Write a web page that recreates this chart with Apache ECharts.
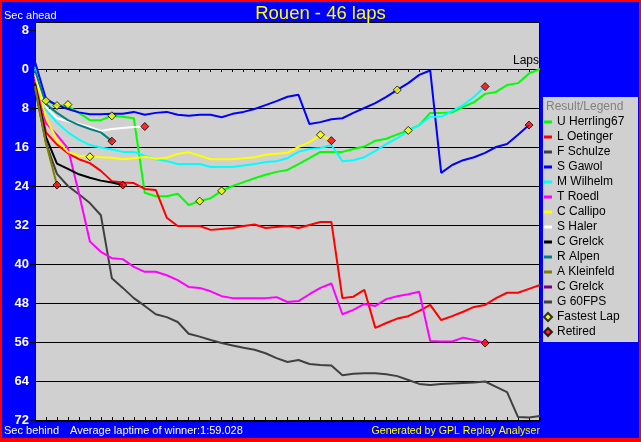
<!DOCTYPE html>
<html><head><meta charset="utf-8">
<script src="https://cdn.jsdelivr.net/npm/echarts@6/dist/echarts.min.js"></script>
<style>html,body{margin:0;padding:0;background:#ff0000;}#c{width:641px;height:442px;}</style>
</head><body><div id="c"></div>
<script>
// ---- DATA (index = lap number, value = seconds behind leader; negative = ahead) ----
const driverNames = ['U Herrling67','L Oetinger','F Schulze','S Gawol','M Wilhelm','T Roedl','C Callipo','S Haler','C Grelck','R Alpen','A Kleinfeld','C Grelck ','G 60FPS'];
const driverColors = ['#00ff00','#ff0000','#404040','#0000ff','#00ffff','#ff00ff','#ffff00','#ffffff','#000000','#008080','#808000','#800080','#404040'];

const herrling = [-0.5,6.5,7.5,7.6,9.0,10.5,10.5,9.6,9.8,10.1,25.4,26.1,26.1,25.6,27.9,27.1,26.5,25.0,24.0,23.2,22.4,21.7,21.1,20.7,19.5,18.3,17.0,17.0,17.0,16.4,15.9,14.7,14.3,13.4,12.6,11.5,9.0,9.0,8.9,7.8,6.8,5.1,4.7,3.3,2.9,0.9,0];
const oetinger = [2.4,13.0,15.5,17.3,18.5,19.3,20.9,23.0,23.3,23.4,24.6,24.8,30.5,32.2,32.2,32.2,33.0,32.8,32.6,32.2,31.9,32.6,32.4,32.2,32.6,32.0,31.4,31.4,47.0,46.7,45.3,53.1,52.1,51.2,50.7,49.6,48.4,51.5,50.7,49.8,48.8,48.4,47.0,45.9,45.9,45.1,44.3];
const schulze = [4.0,15.2,21.5,24.0,25.7,27.5,30.0,42.9,44.9,47.0,48.6,50.3,50.9,51.9,54.3,54.9,55.6,56.2,56.7,57.2,57.6,58.3,59.3,60.1,59.7,60.5,60.7,60.8,62.8,62.5,62.4,62.4,62.6,63.0,63.8,64.6,64.8,64.6,64.5,64.4,64.3,64.1,65.2,66.3,71.4,71.5,71.2];
const gawol = [-1.5,6.2,7.4,8.2,8.9,9.3,9.3,9.2,9.2,8.8,9.4,9.0,8.8,9.4,9.6,9.4,9.4,9.9,9.2,8.8,8.2,7.4,6.6,5.7,5.3,11.3,10.9,10.3,10.1,9.0,8.0,7.0,5.7,4.3,2.9,1.2,0.3,21.3,19.7,18.7,18.1,17.2,16.0,15.4,13.5,11.5];
const wilhelm = [0,8.4,11.0,13.0,14.5,15.6,16.1,16.5,17.0,17.0,17.8,18.5,18.9,19.5,19.5,19.5,20.1,20.1,20.1,19.8,19.5,19.1,18.9,18.3,17.0,16.4,16.2,15.6,18.9,18.7,18.1,16.8,15.4,14.2,12.7,11.5,9.8,9.8,8.6,7.4,5.7,3.6];
const roedl = [1.8,11.1,13.5,16.3,25.5,35.4,37.5,38.8,39.0,40.6,41.6,41.6,42.3,43.3,44.7,44.9,45.6,46.6,47.0,47.0,47.0,47.0,46.8,47.8,47.6,46.2,44.9,44.0,50.3,49.4,48.2,48.6,47.2,46.6,46.2,45.7,55.8,55.9,55.9,55.1,55.6,56.2];
const callipo = [1.2,10.0,14.5,17.0,17.8,18.0,18.1,18.2,18.5,18.3,18.0,18.4,18.2,17.4,17.1,17.8,18.5,18.5,18.5,18.3,18.1,17.6,17.4,17.2,16.0,15.0,13.5,14.7];
const haler = [0.8,7.8,10.1,10.7,11.3,11.9,12.7,12.3,12.1,11.9,11.8];
const grelck = [3.0,14.0,19.4,20.5,21.6,22.3,22.9,23.3,23.8];
const alpen = [0.3,7.2,9.0,10.5,11.5,12.3,13.0,14.8];
const kleinfeld = [3.5,15.2,23.8];
const grelck2 = [];
const fps60 = [];
const driverValues = [herrling,oetinger,schulze,gawol,wilhelm,roedl,callipo,haler,grelck,alpen,kleinfeld,grelck2,fps60];

const fastestLapLaps = [1,2,3,5,7,15,17,26,33,34];
const fastestLapValues = [6.5,7.5,7.3,18.0,9.6,27.1,25.0,13.5,4.3,12.6];
const retiredLaps = [2,7,8,10,27,41,41,45];
const retiredValues = [23.8,14.8,23.8,11.8,14.7,3.6,56.2,11.5];

const yTickValues = [-8,0,8,16,24,32,40,48,56,64,72];
const yTickLabels = ['8','0','8','16','24','32','40','48','56','64','72'];

// ---- CHART ----
const FONT = "'Liberation Sans', Arial, Helvetica, sans-serif";
const LINE_ICON = 'path://M0,0M0,2.5L8,2.5L8,5.5L0,5.5ZM8,8';
const chart = echarts.init(document.getElementById('c'), null, {renderer:'canvas'});

const series = driverNames.map((n, i) => ({
  name: n, type: 'line', symbol: 'none', showSymbol: false,
  lineStyle: {color: driverColors[i], width: 2}, itemStyle: {color: driverColors[i]},
  data: driverValues[i].map((v, lap) => [lap, v]), z: 3, animation: false
}));
series.push({
  name: 'Fastest Lap', type: 'scatter', symbol: 'diamond', symbolSize: 8,
  itemStyle: {color: '#ffff00', borderColor: '#000', borderWidth: 1}, z: 5,
  data: fastestLapLaps.map((l, i) => [l, fastestLapValues[i]])
});
series.push({
  name: 'Retired', type: 'scatter', symbol: 'diamond', symbolSize: 8,
  itemStyle: {color: '#ff0000', borderColor: '#000', borderWidth: 1}, z: 5,
  data: retiredLaps.map((l, i) => [l, retiredValues[i]])
});

const splitColors = yTickValues.map(v => v < 0 ? 'rgba(0,0,0,0)' : '#000000');
const legendData = driverNames.map((n, i) => ({name: n, icon: LINE_ICON, itemStyle: {color: driverColors[i], borderWidth: 0}}))
  .concat([{name: 'Fastest Lap', icon: 'diamond'}, {name: 'Retired', icon: 'diamond'}]);

chart.setOption({
  animation: false,
  backgroundColor: '#ff0000',
  textStyle: {fontFamily: FONT},
  title: {text: 'Rouen - 46 laps', left: 'center', top: 4, padding: 0,
    textStyle: {color: '#ffff00', fontSize: 18.5, fontWeight: 'normal', fontFamily: FONT}},
  graphic: [
    {type: 'rect', z: -100, silent: true, shape: {x: 2, y: 2, width: 637, height: 436}, style: {fill: '#0000ff'}},
    {type: 'rect', z: -90, silent: true, shape: {x: 35.5, y: 22.5, width: 504, height: 399}, style: {fill: '#d0d0d0', stroke: '#000', lineWidth: 1}},
    {type: 'rect', z: -90, silent: true, shape: {x: 543, y: 97, width: 95, height: 245}, style: {fill: '#d0d0d0'}},
    {type: 'text', x: 4, y: 16, style: {text: 'Sec ahead', fill: '#fff', font: '11px ' + FONT, textVerticalAlign: 'middle'}},
    {type: 'text', x: 4, y: 431, style: {text: 'Sec behind', fill: '#fff', font: '11px ' + FONT, textVerticalAlign: 'middle'}},
    {type: 'text', x: 70, y: 431, style: {text: 'Average laptime of winner:1:59.028', fill: '#fff', font: '11px ' + FONT, textVerticalAlign: 'middle'}},
    {type: 'text', x: 540, y: 431, style: {text: 'Generated by GPL Replay Analyser', fill: '#ffff00', font: '10.6px ' + FONT, textAlign: 'right', textVerticalAlign: 'middle'}},
    {type: 'text', x: 546, y: 107, style: {text: 'Result/Legend', fill: '#808080', font: '12px ' + FONT, textVerticalAlign: 'middle'}}
  ],
  legend: {
    orient: 'vertical', left: 543, top: 114.5, itemWidth: 8, itemHeight: 8, itemGap: 0, padding: 0,
    textStyle: {fontSize: 12, color: '#000', lineHeight: 15, fontFamily: FONT},
    data: legendData
  },
  grid: {left: 35, right: 101, top: 30, bottom: 22, containLabel: false},
  xAxis: [
    {type: 'value', min: 0, max: 46, interval: 1, position: 'bottom',
      axisLine: {onZero: true, lineStyle: {color: '#000', width: 1}},
      axisTick: {show: true, length: 3, lineStyle: {color: '#000'}},
      axisLabel: {show: false}, splitLine: {show: false},
      name: 'Laps', nameLocation: 'end', nameGap: 0,
      nameTextStyle: {color: '#000', fontSize: 12, align: 'right', verticalAlign: 'bottom', padding: [0, 1, 2, 0], fontFamily: FONT}},
    {type: 'value', min: 0, max: 46, interval: 1, position: 'bottom',
      axisLine: {onZero: true, show: false},
      axisTick: {show: true, inside: true, length: 3, lineStyle: {color: '#000'}},
      axisLabel: {show: false}, splitLine: {show: false}}
  ],
  yAxis: {
    type: 'value', inverse: true, min: -8, max: 72, interval: 8,
    axisLine: {show: false},
    axisTick: {show: true, length: 5, lineStyle: {color: '#000'}},
    axisLabel: {color: '#fff', fontWeight: 'bold', fontSize: 13, margin: 6, fontFamily: FONT,
      formatter: v => { const k = yTickValues.indexOf(v); return k >= 0 ? yTickLabels[k] : ''; }},
    splitLine: {show: true, lineStyle: {color: splitColors, width: 1}}
  },
  series: series
});
</script></body></html>
